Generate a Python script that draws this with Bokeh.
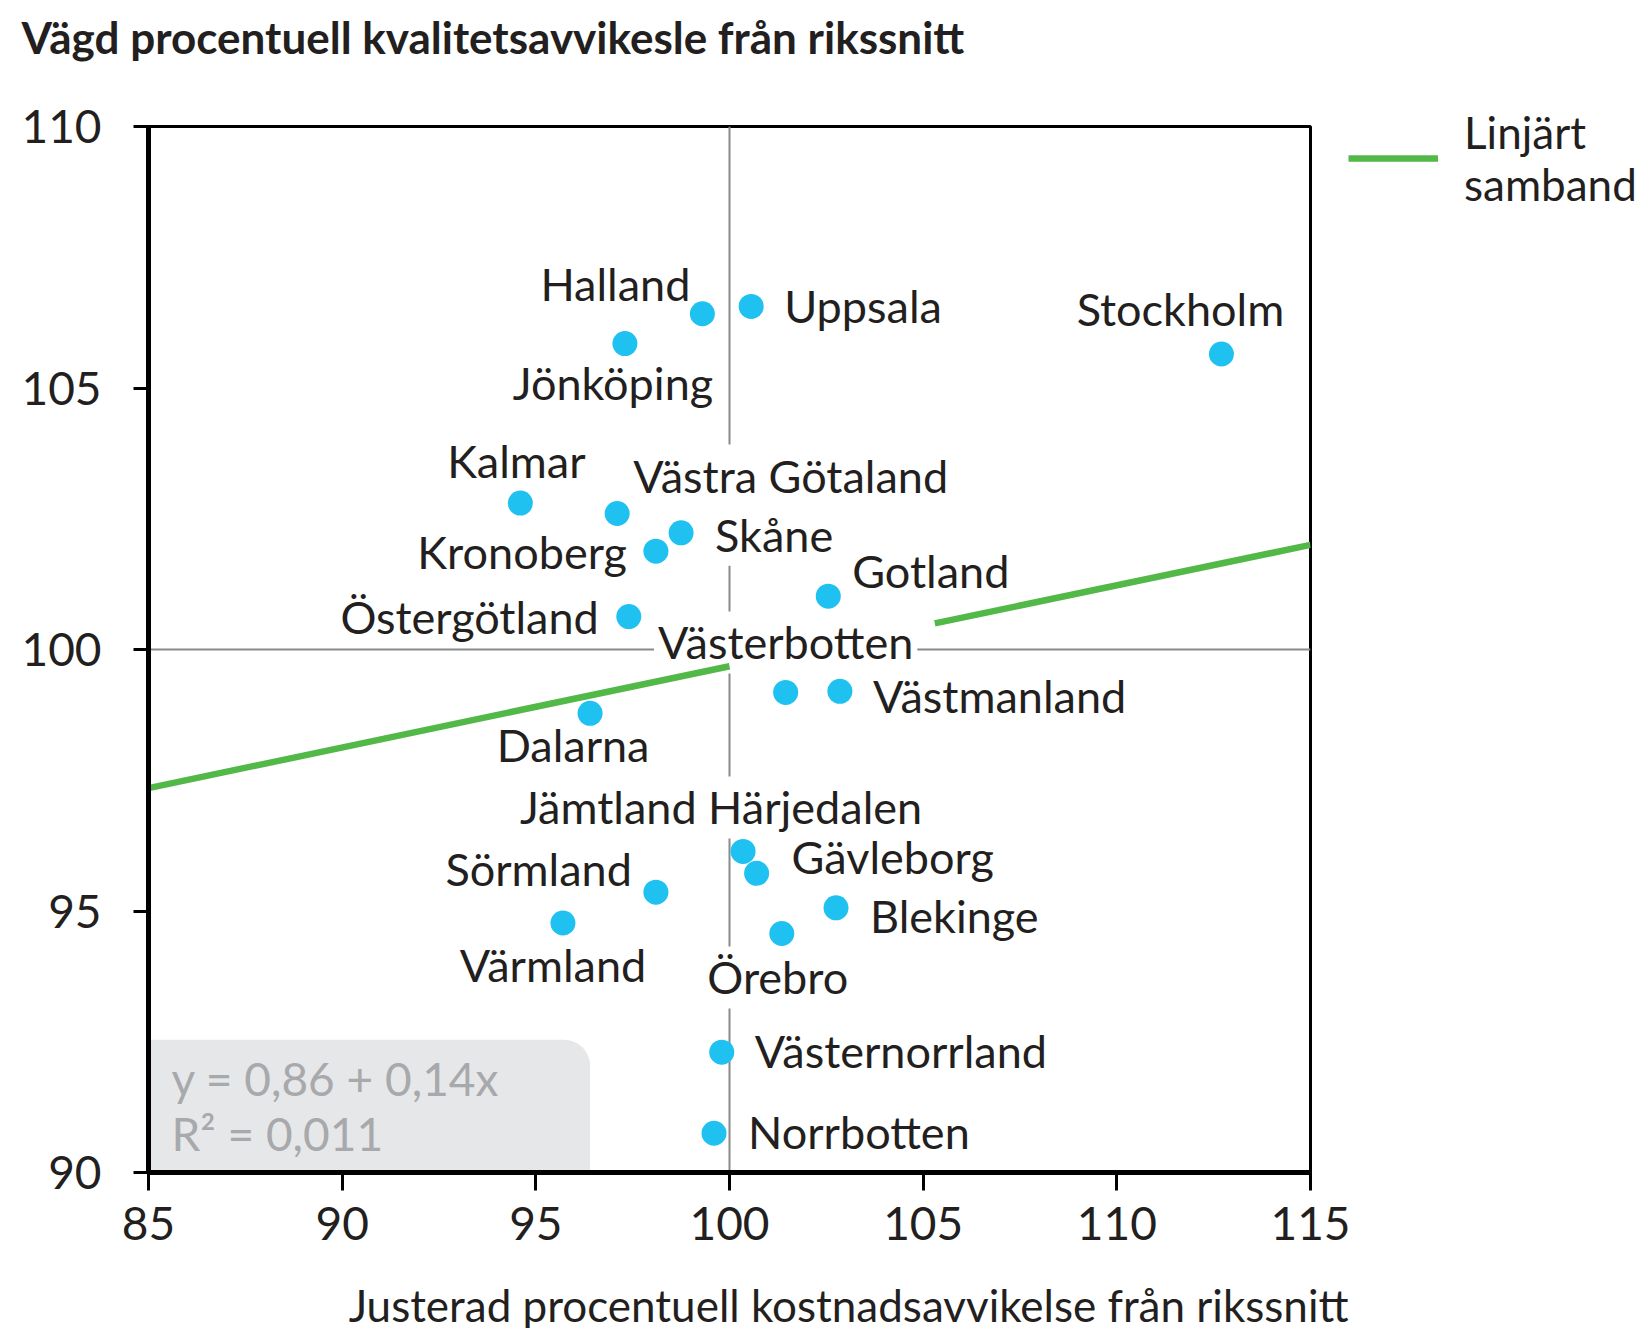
import numpy as np
import pandas as pd
from bokeh.plotting import figure
from bokeh.models import (ColumnDataSource, Span, Label, BoxAnnotation, Legend,
                          LegendItem, Range1d, FixedTicker, Title)
from bokeh.core.properties import value
from bokeh.embed import file_html
from bokeh.resources import INLINE

# ---------------- data ----------------
regions = ["Halland", "Uppsala", "Jönköping", "Stockholm", "Kalmar", "Västra Götaland",
           "Skåne", "Kronoberg", "Gotland", "Östergötland", "Västerbotten", "Västmanland",
           "Dalarna", "Jämtland Härjedalen", "Gävleborg", "Sörmland", "Blekinge",
           "Värmland", "Örebro", "Västernorrland", "Norrbotten"]
cost = [99.3, 100.56, 97.3, 112.7, 94.6, 97.1, 98.75, 98.1, 102.55, 97.4, 101.45, 102.85,
        96.4, 100.35, 100.7, 98.1, 102.75, 95.7, 101.35, 99.8, 99.6]
quality = [106.42, 106.56, 105.85, 105.65, 102.8, 102.6, 102.23, 101.88, 101.02, 100.63,
           99.18, 99.2, 98.78, 96.14, 95.72, 95.36, 95.06, 94.77, 94.57, 92.3, 90.75]

x_ticks = [85, 90, 95, 100, 105, 110, 115]
y_ticks = [90, 95, 100, 105, 110]

# linear fit line (gap where the Västerbotten label sits)
fit_x = [85, 100, np.nan, 105.3, 115]
fit_y = [97.35, 99.68, np.nan, 100.5, 102.0]

title_text = "Vägd procentuell kvalitetsavvikesle från rikssnitt"
xlabel_text = "Justerad procentuell kostnadsavvikelse från rikssnitt"
legend_text = "Linjärt\nsamband"
eq_line1 = "y = 0,86 + 0,14x"
eq_line2 = "R² = 0,011"

# ---------------- label layout (pixels) ----------------
label_align = ["right", "left", "center", "center", "center", "left", "left", "right", "left",
               "right", "center", "left", "center", "center", "left", "right", "left",
               "center", "center", "left", "left"]
label_dx = [-8, 29, -12, -41, -4, 12, 30, -25, 20, -26, 0, 29, -17, -22, 31, -20, 30, -10, -4, 29, 30]
label_dy = [-30, 0, 39, -45, -42, -38, 2, 1, -25, 0, -50, 5, 32, -44, -16, -23, 8, 42, 44, -1, -1]

df = pd.DataFrame(dict(name=regions, x=cost, y=quality, align=label_align,
                       dx=label_dx, dy=label_dy))

INK = "#231f20"
FONT = "Lato"

p = figure(frame_width=1162, frame_height=1046,
           min_border_left=148, min_border_right=341,
           min_border_top=126, min_border_bottom=156,
           x_range=Range1d(85, 115), y_range=Range1d(90, 110),
           output_backend="svg", toolbar_location=None)

p.background_fill_color = "white"
p.border_fill_color = "white"
p.outline_line_color = "black"
p.outline_line_width = 3
p.grid.visible = False

p.xaxis.ticker = FixedTicker(ticks=x_ticks)
p.yaxis.ticker = FixedTicker(ticks=y_ticks)
for ax in p.axis:
    ax.axis_line_width = 5
    ax.axis_line_color = "black"
    ax.major_tick_line_width = 3
    ax.major_tick_line_color = "black"
    ax.major_tick_in = 0
    ax.minor_tick_line_color = None
    ax.major_label_text_font = FONT
    ax.major_label_text_font_size = "46px"
    ax.major_label_text_color = INK
p.yaxis.major_tick_out = 15
p.yaxis.major_label_standoff = 32
p.xaxis.major_tick_out = 18
p.xaxis.major_label_standoff = 16

# spacers that push the title / x label away from the frame
p.add_layout(Title(text=" ", text_font_size="2px", standoff=60), "above")
p.add_layout(Title(text=" ", text_font_size="2px", standoff=30), "below")

# title and x label as titles (outside the frame)
p.title = Title(text=title_text, align="left", offset=-127, standoff=0,
                text_font=FONT, text_font_style="bold", text_font_size="44px",
                text_color=INK)
p.add_layout(Title(text=xlabel_text, align="right", offset=-38, standoff=0,
                   text_font=FONT, text_font_style="normal", text_font_size="44px",
                   text_color=INK),
             "below")

# equation box
box = BoxAnnotation(left=85, right=96.4, bottom=90, top=92.54, fill_color="#e6e7e8",
                    fill_alpha=1, line_color=None, level="underlay",
                    border_radius=(0, 26, 0, 0))
p.add_layout(box)

# reference lines
p.add_layout(Span(location=100, dimension="height", line_color="#8a8a8a",
                  line_width=2, level="underlay"))
p.add_layout(Span(location=100, dimension="width", line_color="#8a8a8a",
                  line_width=2, level="underlay"))

for al in ["left", "center", "right"]:
    src = ColumnDataSource(df[df["align"] == al])
    p.text(x="x", y="y", text="name", source=src, x_offset="dx", y_offset="dy",
           text_align=al, text_baseline="middle", text_font=value(FONT),
           text_font_size="45px", text_color=INK,
           background_fill_color="white", padding=4)

fit_r = p.line(fit_x, fit_y, line_color="#52b848", line_width=6.5)

p.scatter(x="x", y="y", source=ColumnDataSource(df), size=25,
          fill_color="#1fc1f1", line_color=None)

# equation text
p.add_layout(Label(x=85, y=90, x_offset=23, y_offset=94, text=eq_line1,
                   text_font=FONT, text_font_size="46px", text_color="#a7a9ac",
                   text_baseline="middle"))
p.add_layout(Label(x=85, y=90, x_offset=23, y_offset=39, text=eq_line2,
                   text_font=FONT, text_font_size="46px", text_color="#a7a9ac",
                   text_baseline="middle"))

legend = Legend(items=[LegendItem(label=legend_text, renderers=[fit_r])],
                location=(38, 962), glyph_width=90, label_standoff=26,
                label_text_font=FONT, label_text_font_size="44px",
                label_text_color=INK, padding=0, margin=0,
                border_line_color=None, background_fill_alpha=0)
p.add_layout(legend, "right")

open("out.html", "w").write(file_html(p, INLINE))
